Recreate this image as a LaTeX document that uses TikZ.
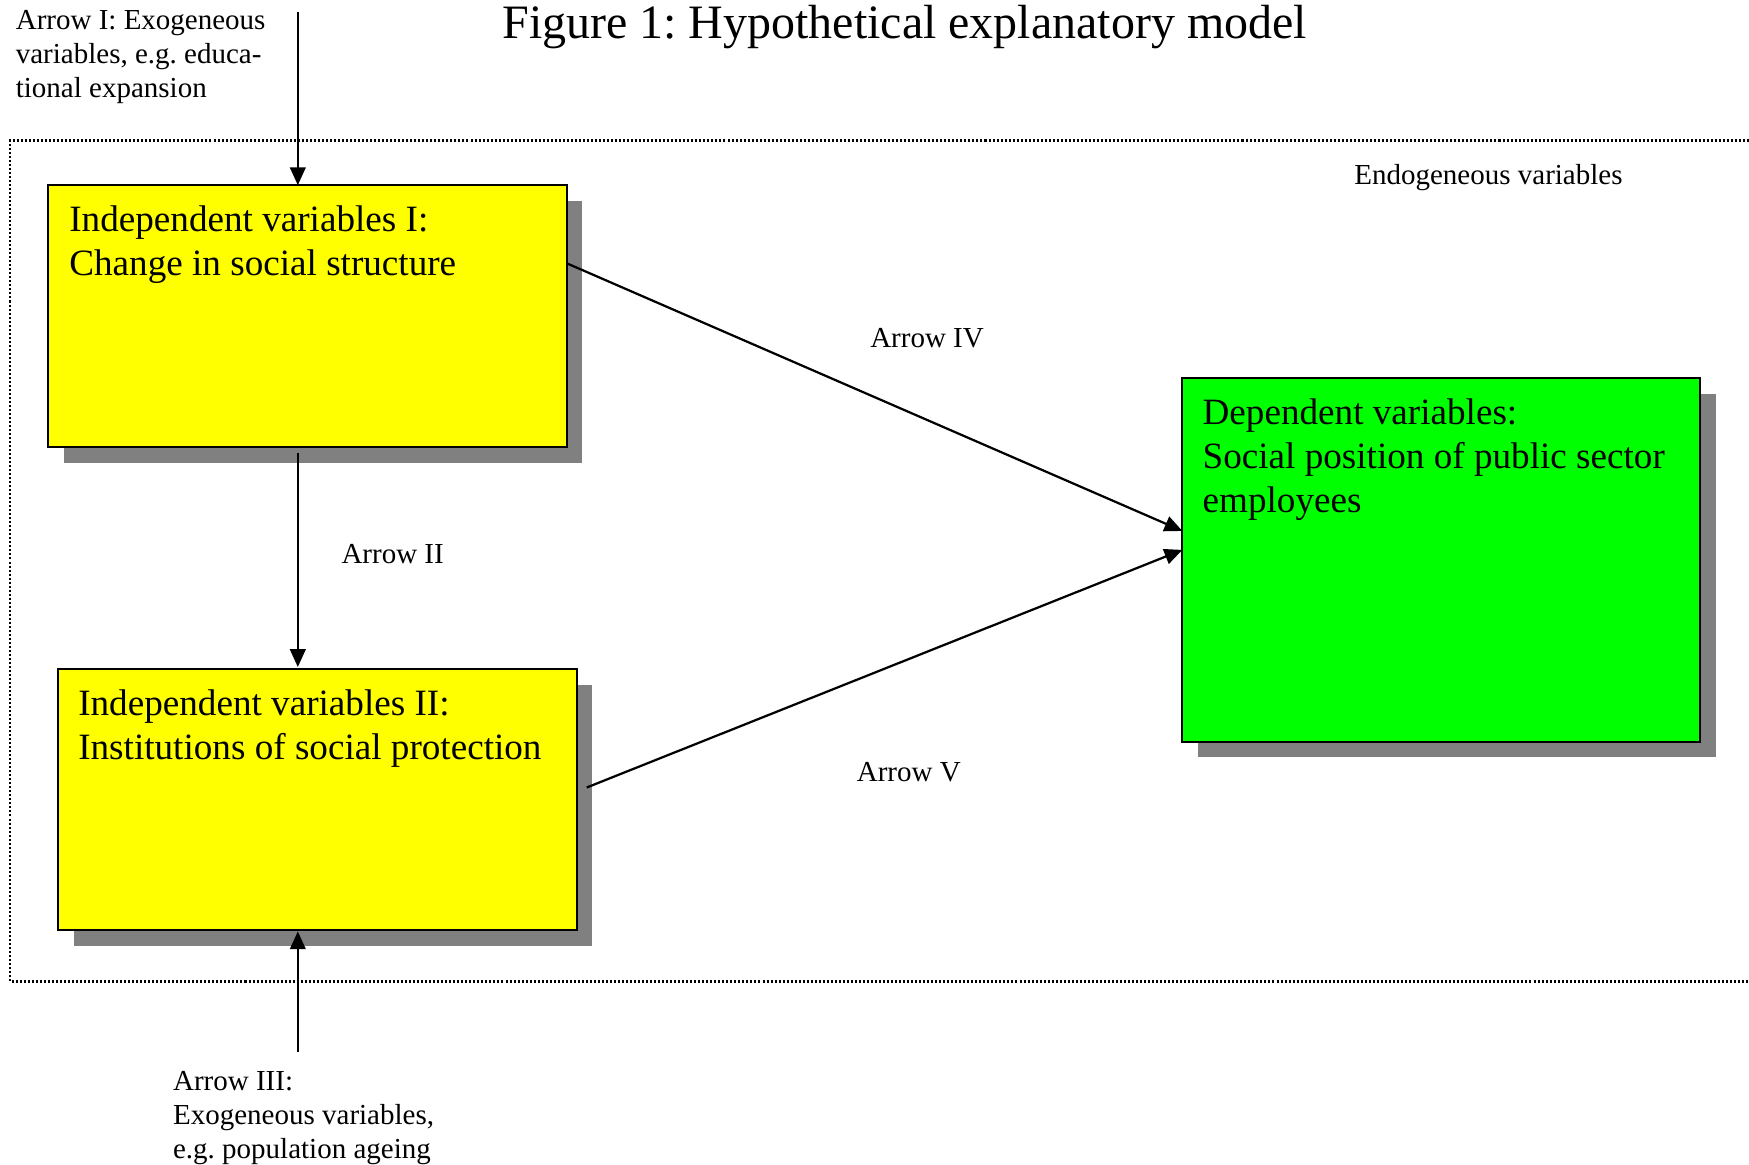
\documentclass[tikz,border=0pt]{standalone}
\usepackage{fontspec}
\setmainfont{Liberation Serif}
\frenchspacing
\usetikzlibrary{arrows.meta,shadows}
\definecolor{boxyellow}{RGB}{255,255,0}
\definecolor{boxgreen}{RGB}{0,255,0}
\definecolor{shadowgray}{RGB}{128,128,128}
\begin{document}
\begin{tikzpicture}[x=1pt,y=-1pt,
  box/.style={draw=black, line width=1.6pt, rectangle, inner sep=0pt, outer sep=0pt, anchor=north west,
    drop shadow={shadow xshift=14pt, shadow yshift=-14pt, fill=shadowgray, opacity=1}},
  boxtext/.style={anchor=north west, inner sep=0pt, align=left, font=\fontsize{33.3}{39.5}\selectfont},
  small/.style={inner sep=0pt, font=\fontsize{26}{30.5}\selectfont},
  arr/.style={line width=2pt, -{Triangle[length=16pt,width=14pt]}},
  frame/.style={line width=2pt, dash pattern=on 1.8pt off 1.8pt}
]
\useasboundingbox (0,0) rectangle (1568,1044);
\fill[white] (0,0) rectangle (1568,1044);

\node[inner sep=0pt, font=\fontsize{43}{50}\selectfont] (title) at (811,24) {Figure 1: Hypothetical explanatory model};

\draw[frame] (1590,126) -- (9,126) -- (9,880) -- (1590,880);

\node[box, fill=boxyellow, minimum width=465pt, minimum height=235pt] (b1) at (43,166) {};
\node[boxtext] (t1) at ([xshift=19pt,yshift=-18pt]b1.north west) {Independent variables I:\\Change in social structure};

\node[box, fill=boxyellow, minimum width=465pt, minimum height=234pt] (b2) at (52,600) {};
\node[boxtext] (t2) at ([xshift=18pt,yshift=-18pt]b2.north west) {Independent variables II:\\Institutions of social protection};

\node[box, fill=boxgreen, minimum width=464pt, minimum height=326pt] (b3) at (1060,339) {};
\node[boxtext] (t3) at ([xshift=18pt,yshift=-18pt]b3.north west) {Dependent variables:\\Social position of public sector\\employees};

\coordinate (a1) at (267,11);
\coordinate (a3) at (267,943);
\draw[arr] (a1) -- (a1 |- b1.north);
\draw[arr, shorten <=5pt, shorten >=2pt] (a1 |- b1.south) -- (a1 |- b2.north);
\draw[arr, shorten >=1pt] (a3) -- (a3 |- b2.south);
\draw[arr] ([yshift=-70pt]b1.north east) -- ([yshift=-137pt]b3.north west);
\draw[arr] ([xshift=9pt,yshift=-106pt]b2.north east) -- ([yshift=-154pt]b3.north west);

\node[small, anchor=west] (l4) at (780,303) {Arrow IV};
\node[small, anchor=west] (l5) at (768,692) {Arrow V};
\node[small, anchor=west] (l2) at (306,497) {Arrow II};
\node[small, anchor=west] (endo) at (1214,159) {Endogeneous variables};
\node[small, anchor=north west, align=left] (ex1) at (14,9) {Arrow I: Exogeneous\\variables, e.g. educa-\\tional expansion};
\node[small, anchor=north west, align=left] (ex3) at (155,960) {Arrow III:\\Exogeneous variables,\\e.g. population ageing};
\end{tikzpicture}
\end{document}
